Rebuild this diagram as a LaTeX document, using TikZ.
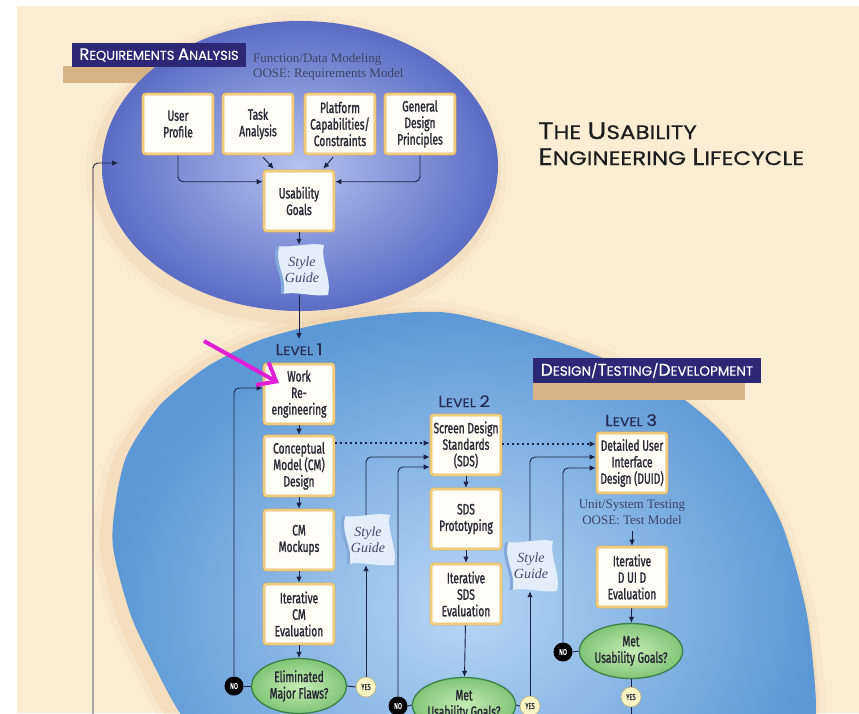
\documentclass[tikz,border=0pt]{standalone}
\usepackage{fontspec}
\setmainfont{Liberation Serif}
\newfontfamily\boxfont[FakeStretch=0.68,FakeBold=1.4]{Fira Sans}
\newfontfamily\hdrfont[FakeBold=0.4]{Poppins}
\newfontfamily\lvlfont[FakeStretch=1.12,FakeBold=0.4]{Poppins}
\newfontfamily\titlefont[FakeStretch=1.18,FakeBold=0.6]{Poppins}
\usetikzlibrary{arrows.meta,shapes.geometric,calc}
\definecolor{beige}{RGB}{251,237,212}
\definecolor{tanglow}{RGB}{222,176,120}
\definecolor{tanbar}{RGB}{214,180,136}
\definecolor{topin}{RGB}{180,194,240}
\definecolor{topout}{RGB}{92,108,196}
\definecolor{botin}{RGB}{184,214,244}
\definecolor{botout}{RGB}{92,152,214}
\definecolor{navy}{RGB}{44,40,118}
\definecolor{boxborder}{RGB}{226,172,86}
\definecolor{boxinner}{RGB}{248,220,140}
\definecolor{boxfill}{RGB}{255,254,246}
\definecolor{boxtext}{RGB}{40,40,54}
\definecolor{ink}{RGB}{28,34,70}
\definecolor{greenin}{RGB}{200,236,182}
\definecolor{greenout}{RGB}{128,198,118}
\definecolor{greenline}{RGB}{58,128,70}
\definecolor{yesfill}{RGB}{251,245,198}
\definecolor{yesline}{RGB}{190,176,120}
\definecolor{sgfill}{RGB}{228,238,251}
\definecolor{sgedge}{RGB}{130,168,220}
\definecolor{sgink}{RGB}{66,74,104}
\definecolor{serifgray}{RGB}{62,68,104}
\definecolor{lvlink}{RGB}{40,44,84}
\definecolor{titleink}{RGB}{30,30,30}
\definecolor{magarrow}{RGB}{224,30,214}
\newcommand\smcap[4]{{\fontsize{#1}{#1}\selectfont #3}{\fontsize{#2}{#2}\selectfont #4}}
\newcommand\sgshape[1]{%
  \begin{scope}[shift={#1}]
    \fill[sgfill] (-24,-24) .. controls (-8,-22) and (8,-28) .. (22,-25)
      .. controls (18,-10) and (30,8) .. (26,25)
      .. controls (10,27) and (-5,21) .. (-20,24)
      .. controls (-16,8) and (-30,-8) .. cycle;
    \draw[sgedge, line width=3pt] (-20,24) .. controls (-16,8) and (-30,-8) .. (-24,-24);
  \end{scope}}
\begin{document}
\begin{tikzpicture}[x=1pt,y=-1pt,
  box/.style={draw=boxborder, line width=2.6pt, fill=boxfill, rounded corners=2.5pt,
    postaction={draw=boxinner, line width=1.1pt},
    minimum width=70pt, minimum height=60pt, inner sep=1pt, align=center, text=boxtext,
    font=\boxfont\fontsize{15}{16.5}\selectfont},
  dec/.style={ellipse, draw=greenline, line width=1.3pt, shade, inner color=greenin, outer color=greenout,
    minimum width=95pt, minimum height=55pt, inner sep=0pt, align=center, text=boxtext,
    font=\boxfont\fontsize{15}{16.5}\selectfont},
  nocirc/.style={circle, fill=black, minimum size=19pt, inner sep=0pt, text=white,
    font=\boxfont\fontsize{8.5}{8.5}\selectfont},
  yescirc/.style={circle, fill=yesfill, draw=yesline, line width=0.6pt, minimum size=20pt, inner sep=0pt,
    text=boxtext, font=\boxfont\fontsize{8.5}{8.5}\selectfont},
  conn/.style={draw=ink, line width=0.9pt, rounded corners=5pt, -{Latex[length=6pt,width=5.5pt]}},
  plain/.style={draw=ink, line width=0.9pt},
  dotconn/.style={draw=ink, line width=1.3pt, dash pattern=on 1.3pt off 3.7pt, -{Latex[length=6pt,width=5.5pt]}},
  sgtext/.style={align=center, font=\itshape\fontsize{14}{16}\selectfont, text=sgink, inner sep=0pt,
    minimum width=50pt, minimum height=50pt},
  lvl/.style={font=\lvlfont, text=lvlink, inner sep=0pt, anchor=base},
  hdrbox/.style={fill=navy, text=white, inner sep=0pt, font=\hdrfont},
  serifnote/.style={font=\fontsize{13}{13}\selectfont, text=serifgray, inner sep=0pt},
  magarr/.style={draw=magarrow, line width=4pt, -{Straight Barb[length=16pt,width=26pt]}},
]
\useasboundingbox (0,0) rectangle (859,713);
\clip (0,0) rectangle (859,713);
\fill[white] (0,0) rectangle (859,713);
\fill[beige] (17,6) rectangle (859,713);

% glows
\begin{scope}[shift={(-4,6)}]
  \foreach \w/\op in {26/0.08,14/0.14}{
    \draw[tanglow, line width=\w pt, opacity=\op] (300,166) ellipse [x radius=198, y radius=145];}
\end{scope}
\begin{scope}[shift={(-5,4)}]
  \foreach \w/\op in {30/0.09,16/0.15}{
    \draw[tanglow, line width=\w pt, opacity=\op] plot[smooth cycle] coordinates {
      (113,547) (116,500) (125,460) (140,432) (160,405) (185,383) (213,363) (260,340) (320,324)
      (390,314) (450,313) (530,333) (600,357) (670,390) (720,430) (755,475) (780,520) (795,565)
      (807,615) (813,663) (816,713) (810,770) (770,830) (650,880) (450,900) (300,840) (230,780)
      (180,713) (153,663) (130,613)};}
\end{scope}

\fill[tanbar] (63,66) rectangle (160,83);
\shade[inner color=topin, outer color=topout] (300,166) ellipse [x radius=198, y radius=145];
\shade[inner color=botin, outer color=botout] plot[smooth cycle] coordinates {
  (113,547) (116,500) (125,460) (140,432) (160,405) (185,383) (213,363) (260,340) (320,324)
  (390,314) (450,313) (530,333) (600,357) (670,390) (720,430) (755,475) (780,520) (795,565)
  (807,615) (813,663) (816,713) (810,770) (770,830) (650,880) (450,900) (300,840) (230,780)
  (180,713) (153,663) (130,613)};
\fill[tanbar] (533,383) rectangle (745,400);

% headers and title
\node[hdrbox, minimum width=174pt, minimum height=24pt] (ra) at (159,55)
  {\smcap{16.5}{13}{R}{EQUIREMENTS\ }\smcap{16.5}{13}{A}{NALYSIS}};
\node[serifnote, anchor=base west] (fdm1) at (253,62) {Function/Data Modeling};
\node[serifnote, anchor=base west] (fdm2) at (253,77) {OOSE: Requirements Model};
\node[hdrbox, minimum width=228pt, minimum height=25pt] (dtd) at (647,370.5)
  {\smcap{17}{13.5}{D}{ESIGN/}\smcap{17}{13.5}{T}{ESTING/}\smcap{17}{13.5}{D}{EVELOPMENT}};
\node[font=\titlefont, text=titleink, inner sep=0pt, anchor=base west] (t1) at (538,139)
  {\smcap{24}{19.5}{T}{HE\ }\smcap{24}{19.5}{U}{SABILITY}};
\node[font=\titlefont, text=titleink, inner sep=0pt, anchor=base west] (t2) at (538,165)
  {\smcap{24}{19.5}{E}{NGINEERING\ }\smcap{24}{19.5}{L}{IFECYCLE}};

% style guide shapes
\sgshape{(302,270)}
\sgshape{(368,540)}
\sgshape{(531,566)}
\node[sgtext] (sg0) at (302,270) {Style\\Guide};
\node[sgtext] (sg1) at (368,540) {Style\\Guide};
\node[sgtext] (sg2) at (531,566) {Style\\Guide};

% requirements boxes
\node[box] (up) at (178,124) {User\\Profile};
\node[box] (ta) at (258,124) {Task\\Analysis};
\node[box] (pc) at (340,124) {Platform\\Capabilities/\\Constraints};
\node[box] (gd) at (420,124) {General\\Design\\Principles};
\node[box] (ug) at (299,201) {Usability\\Goals};

% level 1
\node[lvl] (lv1) at (299,355) {\smcap{16}{12.5}{L}{EVEL\ }\smcap{16}{12.5}{1}{}};
\node[box] (wr) at (299,394) {Work\\Re-\\engineering};
\node[box] (cm) at (299,466) {Conceptual\\Model (CM)\\Design};
\node[box] (mk) at (299,540) {CM\\Mockups};
\node[box] (ice) at (299,614) {Iterative\\CM\\Evaluation};
\node[dec] (emf) at (299,686) {Eliminated\\Major Flaws?};
\node[nocirc] (no1) at (234,686) {NO};
\node[yescirc] (yes1) at (366,687) {YES};

% level 2
\node[lvl] (lv2) at (464,407) {\smcap{16}{12.5}{L}{EVEL\ }\smcap{16}{12.5}{2}{}};
\node[box] (sds) at (466,445) {Screen Design\\Standards\\(SDS)};
\node[box] (sp) at (466,519) {SDS\\Prototyping};
\node[box] (ise) at (466,594) {Iterative\\SDS\\Evaluation};
\node[dec] (mug2) at (464,705) {Met\\Usability Goals?};
\node[nocirc] (no2) at (398,706) {NO};
\node[yescirc] (yes2) at (530,706) {YES};

% level 3
\node[lvl] (lv3) at (631,426) {\smcap{16}{12.5}{L}{EVEL\ }\smcap{16}{12.5}{3}{}};
\node[box] (duid) at (632,463) {Detailed User\\Interface\\Design (DUID)};
\node[serifnote, anchor=base] (uts1) at (632,508) {Unit/System Testing};
\node[serifnote, anchor=base] (uts2) at (632,524) {OOSE: Test Model};
\node[box] (iduid) at (632,577) {Iterative\\D UI D\\Evaluation};
\node[dec] (mug3) at (631,651) {Met\\Usability Goals?};
\node[nocirc] (no3) at (563,652) {NO};
\node[yescirc] (yes3) at (631,697) {YES};

% free ends
\coordinate (lb) at (93,730);
\coordinate (la) at (118,163);
\coordinate (end3) at (631,730);
\coordinate (ma) at (204,341);
\coordinate (mb) at (279,383);

% requirements connectors
\draw[conn] (up.south) |- ($(ug.north west)+(0,12)$);
\draw[conn] ($(ta.south)+(5,2)$) -- ($(ug.north west)+(11,-1)$);
\draw[conn] ($(pc.south)+(-7,2)$) -- ($(ug.north east)+(-12,-1)$);
\draw[conn] (gd.south) |- ($(ug.north east)+(0,12)$);
\draw[conn] (ug.south) -- (ug.south |- sg0.north);
\draw[conn] (ug.south |- sg0.south) -- ($(lv1.north)+(0,-4)$);
\draw[conn] (lb) |- (la);

% level 1 connectors
\draw[conn] (wr) -- (cm);
\draw[conn] (cm) -- (mk);
\draw[conn] (mk) -- (ice);
\draw[conn] (ice) -- (emf);
\draw[plain] (emf.west) -- (no1.east);
\draw[plain] (emf.east) -- (yes1.west);
\draw[conn] (no1.north) |- ($(wr.west)+(0,-6)$);
\draw[conn] (yes1.north) -- (yes1.north |- sg1.south);
\draw[conn] (yes1.north |- sg1.north) |- ($(sds.west)+(0,12)$);
\draw[dotconn] ($(cm.east)+(0,-23)$) -- ($(sds.west)+(0,-2)$);

% level 2 connectors
\draw[conn] (sds) -- (sp);
\draw[conn] (sp) -- (ise);
\draw[conn] (ise) -- (mug2);
\draw[plain] (mug2.west) -- (no2.east);
\draw[plain] (mug2.east) -- (yes2.west);
\draw[conn] (no2.north) |- ($(sds.west)+(0,22)$);
\draw[conn] (yes2.north) -- (yes2.north |- sg2.south);
\draw[conn] (yes2.north |- sg2.north) |- ($(duid.west)+(0,-6)$);
\draw[dotconn] ($(sds.east)+(0,-1)$) -- ($(sds.east -| duid.west)+(0,-1)$);

% level 3 connectors
\draw[conn] ($(uts2.south)+(0,7)$) -- (iduid.north);
\draw[conn] (iduid) -- (mug3);
\draw[plain] (mug3.west) -- (no3.east);
\draw[plain] (mug3.south) -- (yes3.north);
\draw[conn] (no3.north) |- ($(duid.west)+(0,5)$);
\draw[conn] (yes3.south) -- (end3);

% magenta pointer
\draw[magarr] (ma) -- (mb);
\end{tikzpicture}
\end{document}
